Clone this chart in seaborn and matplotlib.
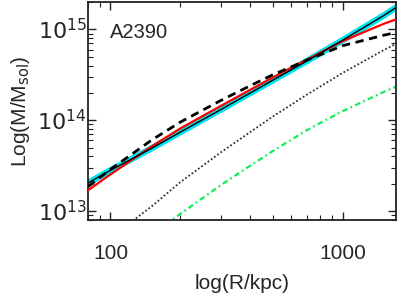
import numpy as np
import pandas as pd
import matplotlib
matplotlib.use("Agg")
import matplotlib.pyplot as plt
import matplotlib.ticker as mtick
import seaborn as sns

# ─── Data (log10 of mass in M_sol) ────────────────────────────────────────────
r_kpc = [80, 100, 150, 200, 300, 400, 500, 700, 1000, 1500, 1700]

log_m_total = [13.31, 13.45, 13.69, 13.87, 14.12, 14.30, 14.44, 14.65, 14.88, 15.15, 15.24]
log_m_red = [13.23, 13.405, 13.71, 13.91, 14.16, 14.335, 14.47, 14.665, 14.87, 15.06, 15.11]
log_m_dashed = [13.27, 13.46, 13.78, 13.98, 14.22, 14.38, 14.50, 14.66, 14.82, 14.935, 14.965]
log_m_dotted = [12.53, 12.71, 13.05, 13.32, 13.65, 13.87, 14.04, 14.28, 14.52, 14.77, 14.84]
log_m_green = [12.20, 12.40, 12.74, 12.97, 13.29, 13.50, 13.66, 13.89, 14.10, 14.31, 14.37]

x_ticks = [100, 1000]
x_tick_labels = ["100", "1000"]
y_ticks = [1e13, 1e14, 1e15]
y_tick_labels = ["$10^{13}$", "$10^{14}$", "$10^{15}$"]

cluster = "A2390"

# ─── Style ────────────────────────────────────────────────────────────────────
sns.set_theme(style="ticks")
plt.rcParams["font.family"] = ["Liberation Sans", "DejaVu Sans"]
plt.rcParams["mathtext.fontset"] = "dejavusans"

df = pd.DataFrame({
    "r": r_kpc,
    "total": np.power(10.0, log_m_total),
    "red": np.power(10.0, log_m_red),
    "dashed": np.power(10.0, log_m_dashed),
    "dotted": np.power(10.0, log_m_dotted),
    "green": np.power(10.0, log_m_green),
})

fig = plt.figure(figsize=(3.99, 2.98), dpi=100)
ax = fig.add_axes([88 / 399, 1 - 220 / 298, 308 / 399, 218 / 298])
ax.set_xscale("log")
ax.set_yscale("log")

sns.lineplot(data=df, x="r", y="total", ax=ax, color="#00e2ee", lw=4.6, zorder=1)
sns.lineplot(data=df, x="r", y="green", ax=ax, color="#11ee55", lw=1.6,
             linestyle=(0, (2.5, 1.5, 0.8, 1.5)), zorder=2)
sns.lineplot(data=df, x="r", y="dotted", ax=ax, color="#333333", lw=1.3,
             linestyle=(0, (1, 1.2)), zorder=2)
sns.lineplot(data=df, x="r", y="red", ax=ax, color="#ff0000", lw=1.6, zorder=3)
sns.lineplot(data=df, x="r", y="total", ax=ax, color="black", lw=1.0, zorder=4)
sns.lineplot(data=df, x="r", y="dashed", ax=ax, color="black", lw=2.0,
             linestyle=(0, (3, 2)), zorder=4)

ax.set_xlim(80, 1700)
ax.set_ylim(8e12, 2e15)

ax.xaxis.set_major_locator(mtick.FixedLocator(x_ticks))
ax.xaxis.set_major_formatter(mtick.FixedFormatter(x_tick_labels))
ax.yaxis.set_major_locator(mtick.FixedLocator(y_ticks))
ax.yaxis.set_major_formatter(mtick.FixedFormatter(y_tick_labels))
ax.xaxis.set_minor_locator(mtick.LogLocator(base=10, subs=np.arange(2, 10), numticks=20))
ax.yaxis.set_minor_locator(mtick.LogLocator(base=10, subs=np.arange(2, 10), numticks=20))
ax.xaxis.set_minor_formatter(mtick.NullFormatter())
ax.yaxis.set_minor_formatter(mtick.NullFormatter())

ax.tick_params(which="both", direction="in", top=True, right=True, color="#222222")
ax.tick_params(which="major", length=6, width=1.0)
ax.tick_params(which="minor", length=3.5, width=0.8)
ax.tick_params(axis="x", which="major", labelsize=15, pad=17)
ax.tick_params(axis="y", which="major", labelsize=16, pad=1)
for side in ax.spines.values():
    side.set_linewidth(1.3)
    side.set_color("#222222")

ax.set_xlabel("log(R/kpc)", fontsize=15, labelpad=8)
ax.set_ylabel("Log(M/M$_{\\mathrm{sol}}$)", fontsize=15, labelpad=4)
ax.text(0.07, 0.86, cluster, transform=ax.transAxes, fontsize=14.5,
        ha="left", va="center")

fig.savefig("out.png", dpi=100)
plt.close(fig)
